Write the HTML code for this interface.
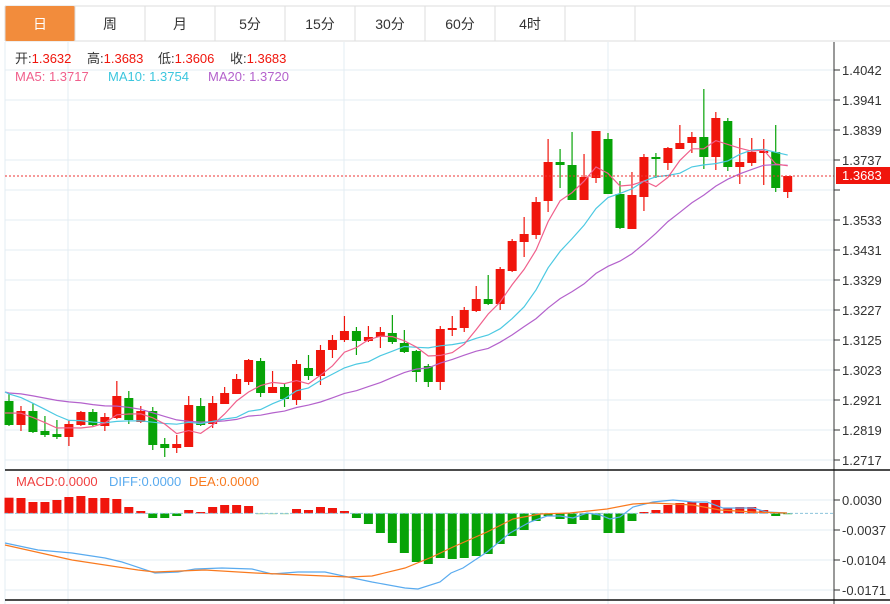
<!DOCTYPE html>
<html><head><meta charset="utf-8">
<style>
html,body{margin:0;padding:0;background:#fff;width:890px;height:604px;overflow:hidden}
body{font-family:"Liberation Sans","Noto Sans CJK SC",sans-serif}
svg{position:absolute;left:0;top:0}
</style></head><body>
<svg id="s" width="890" height="604" xmlns="http://www.w3.org/2000/svg" font-family="Liberation Sans, Noto Sans CJK SC, sans-serif"></svg>
<script>
var s=document.getElementById('s');var h='';
function L(x1,y1,x2,y2,c,w,d){h+='<line x1="'+x1+'" y1="'+y1+'" x2="'+x2+'" y2="'+y2+'" stroke="'+c+'" stroke-width="'+(w||1)+'"'+(d?' stroke-dasharray="'+d+'"':'')+'/>';}
function R(x,y,w,hh,c){h+='<rect x="'+x+'" y="'+y+'" width="'+w+'" height="'+hh+'" fill="'+c+'"/>';}
function T(x,y,t,c,sz,a){h+='<text x="'+x+'" y="'+y+'" fill="'+c+'" font-size="'+(sz||13)+'"'+(a?' text-anchor="'+a+'"':'')+'>'+t+'</text>';}
function P(pts,c,w){h+='<polyline fill="none" stroke="'+c+'" stroke-width="'+(w||1.2)+'" points="'+pts.map(function(p){return p[0].toFixed(1)+','+p[1].toFixed(1)}).join(' ')+'"/>';}
var tabs=['日','周','月','5分','15分','30分','60分','4时',''];
L(5,41,890,41,'#ddd');L(5,6,890,6,'#ddd');
for(var i=0;i<tabs.length;i++){var x=5+i*70;
 if(i==0){h+='<rect x="5" y="6" width="70" height="35" rx="2" fill="#f28c3c"/>';}
 L(x+70,6,x+70,41,'#ddd');
 T(x+35,29,tabs[i],i==0?'#fff':'#333',14,'middle');}
L(5,6,5,41,'#ddd');
var gc='#e3ecf3';
var labs=['1.4042','1.3941','1.3839','1.3737','1.3635','1.3533','1.3431','1.3329','1.3227','1.3125','1.3023','1.2921','1.2819','1.2717'];
for(i=0;i<labs.length;i++){var y=70+i*30;L(5,y,834,y,gc);L(834,y,840,y,'#333');if(i!=4)T(842,y+5,labs[i],'#333',13);}
[68,344,608].forEach(function(x){L(x,42,x,604,gc);});
L(5,42,5,604,gc);
var ml=['0.0030','-0.0037','-0.0104','-0.0171'];
for(i=0;i<4;i++){var y=500+i*30;L(5,y,834,y,gc);L(834,y,840,y,'#333');T(842,y+5,ml[i],'#333',13);}
var C=[['g',401,425,393,426],['r',411,425,406,431],['g',411,432,403,433],['g',431,435,416,437],['g',434,437,420,439],['r',424,437,420,446],['r',412,425,411,426],['g',412,425,409,426],['r',417,426,413,431],['r',396,418,381,419],['g',398,420,391,424],['r',411,422,406,423],['g',411,445,407,450],['g',444,448,438,457],['r',444,448,435,453],['r',405,447,396,447],['g',406,425,398,426],['r',403,424,396,428],['r',393,404,387,404],['r',379,394,374,394],['r',360,382,359,385],['g',361,393,358,397],['r',387,393,371,393],['g',387,399,383,407],['r',364,400,360,405],['g',368,376,355,380],['r',350,376,345,385],['r',340,350,335,358],['r',331,340,316,342],['g',331,341,327,355],['r',337,341,326,342],['r',332,337,327,348],['g',333,342,315,344],['g',343,352,330,353],['g',351,372,350,382],['g',366,382,364,387],['r',329,382,326,390],['r',328,330,316,336],['r',310,328,307,332],['r',299,311,286,312],['g',299,304,275,305],['r',269,304,267,310],['r',241,271,239,272],['r',234,242,217,257],['r',202,235,197,239],['r',162,201,139,212],['g',162,165,149,188],['g',165,200,132,200],['r',177,200,154,200],['r',131,178,131,183],['g',139,194,133,194],['g',194,228,181,229],['r',195,229,172,229],['r',157,197,154,211],['g',157,159,153,178],['r',148,163,147,170],['r',143,149,125,149],['r',137,143,132,153],['g',137,157,89,169],['r',118,157,112,170],['g',121,167,118,171],['r',162,167,138,184],['r',152,163,138,166],['r',151,153,139,185],['g',152,188,125,192],['r',176,192,176,198]];
var RED='#f0150c',GRN='#07a307';
function X(i){return 9+i*11.98;}
var closes=[];
C.forEach(function(c,i){closes.push(c[0]=='r'?c[1]:c[2]);});
var pad=[392,392,392,392,392,392,392,392,392,392,375,375,375,375,375,410,410,410,410];
var all=pad.concat(closes);
function MA(n){var o=[];for(var i=0;i<C.length;i++){var k=i+pad.length,sm=0;for(var j=0;j<n;j++)sm+=all[k-j];o.push([X(i),sm/n]);}return o;}
var m5=MA(5),m10=MA(10),m20=MA(20);
m5.unshift([5,413]);m10.unshift([5,392]);m20.unshift([5,392]);
C.forEach(function(c,i){var x=X(i),col=c[0]=='r'?RED:GRN;
 L(x,c[3],x,c[4],col,1.2);R(x-4.5,c[1],9,Math.max(c[2]-c[1],1.5),col);});
P(m20,'#b462cc');P(m10,'#4cc9e2');P(m5,'#f0608c');
L(5,176,834,176,'#e33','1','2,2');
R(836,167,54,17,'#f0150c');T(842,180,'1.3683','#fff',13);
var M=[497.7,498,502,502,500,497,496,498,498,499,507,511,518,518,516,510,512,507,505,505,506,514,514,514,509,510,507,508,511,518,524,533,543,553,562,564,558,559,558,556,554,544,536,530,521,516,519,524,520,520,533,533,521,512,510,505,503,502,503,500,508,507,507,510,516,514];
var Z=513.4;
M.forEach(function(v,i){var x=X(i);var up=v<Z;var col=up?RED:GRN;
 if(i>=21&&i<=23)col='#8fd08f';
 R(x-4.5,Math.min(v,Z),9,Math.max(Math.abs(v-Z),0.8),col);});
L(5,Z,834,Z,'#8cc4dc',1,'3,2');
var dif=[[5,543],[38,550],[72,553],[105,558],[122,562],[155,573],[178,572],[195,569],[222,568],[252,569],[272,574],[298,572],[325,572],[348,577],[372,582],[405,588],[418,589],[440,582],[451,573],[463,568],[487,552],[510,533],[530,522],[547,516],[560,516],[573,518],[587,513],[600,515],[610,519],[620,517],[633,507],[653,502],[673,500],[693,502],[707,502],[723,508],[753,508],[767,512],[787,513]];
var dea=[[5,545],[72,560],[138,570],[155,572],[205,570],[255,573],[348,577],[372,576],[405,568],[432,557],[453,547],[487,532],[513,519],[540,514],[570,513],[607,509],[633,504],[653,503],[693,505],[720,510],[753,512],[787,513]];
P(dif,'#5aabef');P(dea,'#f97a1f');
L(834,42,834,604,'#333');
L(5,470,834,470,'#111',1.5);L(5,600,834,600,'#111',1.5);L(834,470,890,470,'#111',1.5);L(834,600,890,600,'#111',1.5);
L(5,70,300,70,gc);
function KV(x,k,v){h+='<text x="'+x+'" y="63" font-size="13"><tspan fill="#333">'+k+'</tspan><tspan fill="#f0150c">'+v+'</tspan></text>';}
KV(15,'开:','1.3632');KV(87,'高:','1.3683');KV(158,'低:','1.3606');KV(230,'收:','1.3683');
T(15,81,'MA5: 1.3717','#f0608c',13);T(108,81,'MA10: 1.3754','#3cc6de',13);T(208,81,'MA20: 1.3720','#b462cc',13);
T(16,486,'MACD:0.0000','#f04040',13);T(109,486,'DIFF:0.0000','#5aabef',13);T(189,486,'DEA:0.0000','#f97a1f',13);
s.innerHTML=h;
</script>
</body></html>
